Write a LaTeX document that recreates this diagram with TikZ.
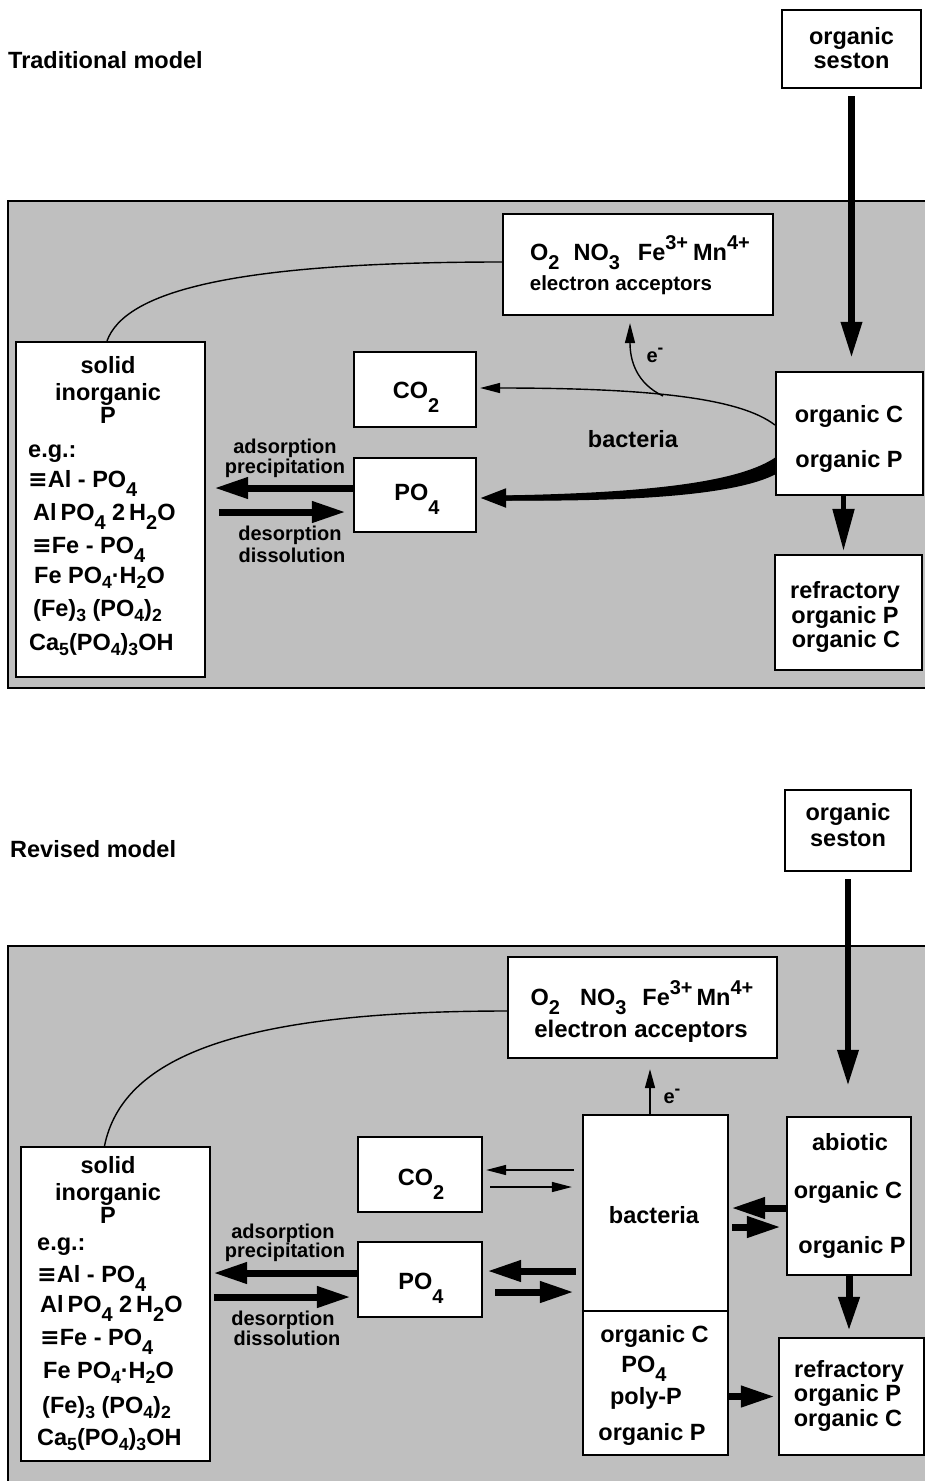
\documentclass[tikz,border=0pt]{standalone}
\usepackage{fontspec}
\setmainfont{Liberation Sans}
\newfontfamily\djv{DejaVu Sans}
\usetikzlibrary{arrows.meta,calc}
\newcommand{\sbA}[1]{\raisebox{-0.6em}{\scalebox{0.85}{#1}}}
\newcommand{\sbB}[1]{\raisebox{-0.4em}{\scalebox{0.85}{#1}}}
\newcommand{\sbC}[1]{\raisebox{-0.25em}{\scalebox{0.75}{#1}}}
\newcommand{\spA}[1]{\raisebox{0.45em}{\scalebox{0.85}{#1}}}
\newcommand{\trip}{{\djv\bfseries ≡}}
\begin{document}
\begin{tikzpicture}[x=1pt,y=-1pt,
  box/.style={draw, line width=2.2pt, fill=white, inner sep=0pt},
  t/.style={font=\bfseries\fontsize{23.5}{25}\selectfont, inner sep=0pt, anchor=base},
  s/.style={font=\bfseries\fontsize{20}{20}\selectfont, inner sep=0pt, anchor=base},
  lst/.style={font=\bfseries\fontsize{23.5}{25}\selectfont, inner sep=0pt, anchor=base west},
  ttl/.style={font=\bfseries\fontsize{23.5}{24}\selectfont, inner sep=0pt, anchor=base west},
  panel/.style={fill=black!25},
  thinln/.style={line width=1.4pt},
  thinarr/.style={line width=1.4pt, -{Triangle[length=20pt,width=10pt]}},
  thkcurve/.style={line width=5pt, -{Triangle[length=26pt,width=18pt]}},
  thk/.style={line width=7pt, -{Triangle[length=34pt,width=20pt]}},
  big/.style={line width=6.5pt, -{Triangle[length=36pt,width=20pt]}}
]
\useasboundingbox (0,0) rectangle (925,1481);
\fill[white] (0,0) rectangle (925,1481);

% ---------------- panels ----------------
\fill[panel] (8,201) rectangle (925,688);
\draw[line width=1.5pt] (925,201) -- (8,201) -- (8,688) -- (925,688);
\fill[panel] (8,946) rectangle (925,1481);
\draw[line width=1.5pt] (925,946) -- (8,946) -- (8,1481);

% ---------------- titles ----------------
\node[ttl] (title1) at (8,68) {Traditional model};
\node[ttl] (title2) at (10,857) {Revised model};

% ================= TOP (traditional) =================
\node[box, minimum width=139pt, minimum height=78pt] (sestonT) at (851.5,49) {};
\node[t] (sestonT1) at (851.5,44) {organic};
\node[t] (sestonT2) at (851.5,68) {seston};

\node[box, minimum width=270pt, minimum height=101pt] (eaccT) at (638,264.5) {};
\node[t] (eaccT1) at (640,260) {O\sbB{2}\hspace{14pt}NO\sbB{3}\hspace{18pt}Fe\spA{3+}\hspace{5pt}Mn\spA{4+}};
\node[inner sep=0pt, anchor=base, font=\bfseries\fontsize{20.5}{21}\selectfont] (eaccT2) at (621,290) {electron acceptors};

\node[box, minimum width=122pt, minimum height=75pt] (co2T) at (415,389.5) {};
\node[t] (co2Tt) at (416,398) {CO\sbA{2}};
\node[box, minimum width=122pt, minimum height=74pt] (po4T) at (415,495) {};
\node[t] (po4Tt) at (417,500) {PO\sbA{4}};

\node[box, minimum width=189pt, minimum height=335pt] (solidT) at (110.5,509.5) {};
\node[t] (sT1) at (108,373) {solid};
\node[t] (sT2) at (108,400) {inorganic};
\node[t] (sT3) at (108,423) {P};
\node[lst] (sT4) at (28,457) {e.g.:};
\node[lst] (sT5) at (28,487) {\trip Al - PO\sbB{4}};
\node[lst] (sT6) at (33,520) {Al\,PO\sbB{4} 2\,H\sbB{2}O};
\node[lst] (sT7) at (32,553) {\trip Fe - PO\sbB{4}};
\node[lst] (sT8) at (34,583) {Fe PO\sbC{4}·H\sbC{2}O};
\node[lst] (sT9) at (33,616) {(Fe)\sbC{3} (PO\sbC{4})\sbC{2}};
\node[lst] (sT10) at (29,650) {Ca\sbC{5}(PO\sbC{4})\sbC{3}OH};

\node[box, minimum width=147pt, minimum height=123pt] (orgT) at (849.5,433.5) {};
\node[t] (orgT1) at (849,422) {organic C};
\node[t] (orgT2) at (849,467) {organic P};

\node[box, minimum width=147pt, minimum height=115pt] (refrT) at (848.5,612.5) {};
\node[t] (refrT1) at (845,598) {refractory};
\node[t] (refrT2) at (845,623) {organic P};
\node[t] (refrT3) at (846,647) {organic C};

\node[t] (bactT) at (633,447) {bacteria};
\node[s] (eT) at (655,362) {e\spA{-}};
\node[s] (adsT) at (285,453) {adsorption};
\node[s] (preT) at (285,473) {precipitation};
\node[s] (desT) at (290,540) {desorption};
\node[s] (disT) at (292,562) {dissolution};

% connectors top
\draw[thinln] ([xshift=-3.5pt]solidT.north) .. controls (125,292) and (230,262) .. ([yshift=2.5pt]eaccT.west);
\draw[big, shorten <=7pt, shorten >=13pt] (sestonT.south) -- (sestonT.south |- orgT.north);
\draw[thinarr, shorten >=3pt] ([yshift=8.5pt]orgT.west) .. controls (740,398) and (650,388) .. ([yshift=1.5pt]co2T.east);
\coordinate (brT) at (663,396);
\draw[thinarr, shorten >=7pt] (brT) .. controls (636,383) and (630,360) .. ([xshift=-8pt]eaccT.south);
% tapered thick curve to PO4
\fill (776,457) .. controls (740,482) and (650,493) .. (500,495.5) -- (500,500.5) .. controls (650,502) and (740,493) .. (776,474) -- cycle;
\draw[thkcurve, shorten >=3pt] ([yshift=-31.5pt]orgT.west) .. controls (740,488) and (650,498) .. ([yshift=-3pt]po4T.east);
\coordinate (aT1) at ([yshift=7pt]po4T.west);
\draw[thk, shorten >=8pt] (aT1) -- (aT1 -| solidT.east);
\coordinate (aT2) at ([yshift=-17pt]po4T.west);
\draw[thk, shorten <=13pt, shorten >=7pt] (aT2 -| solidT.east) -- (aT2);
\draw[line width=5pt, -{Triangle[length=42pt,width=21pt]}, shorten >=3pt] ([xshift=-6pt]orgT.south) -- ([xshift=-6pt]orgT.south |- refrT.north);

% ================= BOTTOM (revised) =================
\node[box, minimum width=126pt, minimum height=81pt] (sestonB) at (848,830.5) {};
\node[t] (sestonB1) at (848,820) {organic};
\node[t] (sestonB2) at (848,846) {seston};

\node[box, minimum width=269pt, minimum height=101pt] (eaccB) at (642.5,1007.5) {};
\node[t] (eaccB1) at (642,1005) {O\sbB{2}\hspace{20pt}NO\sbB{3}\hspace{16pt}Fe\spA{3+}\hspace{4pt}Mn\spA{4+}};
\node[inner sep=0pt, anchor=base, font=\bfseries\fontsize{24}{25}\selectfont] (eaccB2) at (641,1037) {electron acceptors};

\node[box, minimum width=124pt, minimum height=75pt] (co2B) at (420,1174.5) {};
\node[t] (co2Bt) at (421,1185) {CO\sbA{2}};
\node[box, minimum width=124pt, minimum height=75pt] (po4B) at (420,1279.5) {};
\node[t] (po4Bt) at (421,1289) {PO\sbA{4}};

\node[box, minimum width=189pt, minimum height=314pt] (solidB) at (115.5,1304) {};
\node[t] (sB1) at (108,1173) {solid};
\node[t] (sB2) at (108,1200) {inorganic};
\node[t] (sB3) at (108,1223) {P};
\node[lst] (sB4) at (37,1250) {e.g.:};
\node[lst] (sB5) at (37,1282) {\trip Al - PO\sbB{4}};
\node[lst] (sB6) at (40,1312) {Al\,PO\sbB{4} 2\,H\sbB{2}O};
\node[lst] (sB7) at (40,1345) {\trip Fe - PO\sbB{4}};
\node[lst] (sB8) at (43,1378) {Fe PO\sbC{4}·H\sbC{2}O};
\node[lst] (sB9) at (42,1413) {(Fe)\sbC{3} (PO\sbC{4})\sbC{2}};
\node[lst] (sB10) at (37,1445) {Ca\sbC{5}(PO\sbC{4})\sbC{3}OH};

\node[box, minimum width=145pt, minimum height=340pt] (bactB) at (655.5,1285) {};
\coordinate (dv) at (0,1311);
\draw[line width=1.5pt] (bactB.west |- dv) -- (bactB.east |- dv);
\node[t] (bactB0) at (654,1223) {bacteria};
\node[t] (bactB1) at (654.5,1342) {organic C};
\node[t] (bactB2) at (644,1372) {PO\sbB{4}};
\node[t] (bactB3) at (646,1404) {poly-P};
\node[t] (bactB4) at (652,1440) {organic P};

\node[box, minimum width=124pt, minimum height=158pt] (abioB) at (849,1196) {};
\node[t] (abioB1) at (850,1150) {abiotic};
\node[t] (abioB2) at (848,1198) {organic C};
\node[t] (abioB3) at (852,1253) {organic P};

\node[box, minimum width=145pt, minimum height=117pt] (refrB) at (851.5,1396.5) {};
\node[t] (refrB1) at (849,1377) {refractory};
\node[t] (refrB2) at (847.5,1401) {organic P};
\node[t] (refrB3) at (848,1426) {organic C};

\node[s] (eB) at (672,1103) {e\spA{-}};
\node[s] (adsB) at (283,1238) {adsorption};
\node[s] (preB) at (285,1257) {precipitation};
\node[s] (desB) at (283,1325) {desorption};
\node[s] (disB) at (287,1345) {dissolution};

% connectors bottom
\draw[thinln] ([xshift=-11pt]solidB.north) .. controls (122,1060) and (230,1011) .. ([yshift=-3.5pt]eaccB.west);
\draw[big, shorten <=7pt, shorten >=30pt] (sestonB.south) -- (sestonB.south |- abioB.north);
\draw[line width=1.6pt, -{Triangle[length=19pt,width=10pt]}, shorten >=10pt] ([xshift=-5.5pt]bactB.north) -- ([xshift=-5.5pt]bactB.north |- eaccB.south);
% CO2 thin arrows
\coordinate (c1) at ([yshift=4.5pt]co2B.east);
\draw[thinarr, shorten <=8pt, shorten >=3pt] (c1 -| bactB.west) -- (c1);
\coordinate (c2) at ([yshift=-12.5pt]co2B.east);
\draw[thinarr, shorten <=7pt, shorten >=10pt] (c2) -- (c2 -| bactB.west);
% PO4 thick arrows
\coordinate (p1) at ([yshift=8.5pt]po4B.east);
\draw[thk, shorten <=6pt, shorten >=4pt] (p1 -| bactB.west) -- (p1);
\coordinate (p2) at ([yshift=-12.5pt]po4B.east);
\draw[thk, shorten <=12pt, shorten >=8pt] (p2) -- (p2 -| bactB.west);
% solid <-> PO4
\coordinate (q1) at ([yshift=6.5pt]po4B.west);
\draw[thk, shorten >=2pt] (q1) -- (q1 -| solidB.east);
\coordinate (q2) at ([yshift=-17.5pt]po4B.west);
\draw[thk, shorten <=3pt, shorten >=6pt] (q2 -| solidB.east) -- (q2);
% bacteria <-> abiotic
\coordinate (r1) at ([yshift=-12pt]abioB.west);
\draw[thk, shorten >=2pt] (r1) -- (r1 -| bactB.east);
\coordinate (r2) at ([yshift=-31pt]abioB.west);
\draw[thk, shorten <=3pt, shorten >=5pt] (r2 -| bactB.east) -- (r2);
% to refractory
\draw[thk, shorten >=3pt] (refrB.west -| bactB.east) -- (refrB.west);
\draw[thk, shorten >=6pt] (abioB.south) -- (abioB.south |- refrB.north);
\end{tikzpicture}
\end{document}
